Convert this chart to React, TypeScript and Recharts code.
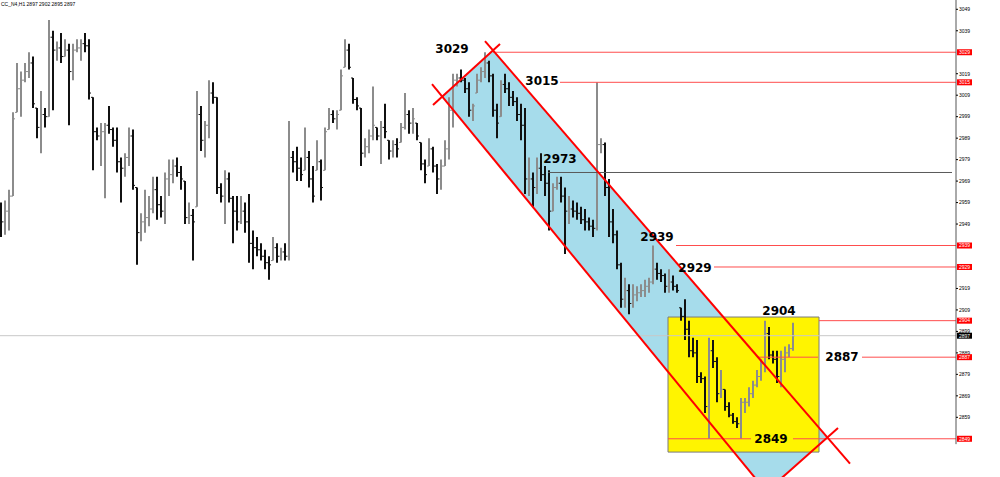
import React from 'react';
import { ComposedChart, Bar, Area, XAxis, YAxis, ReferenceLine, ReferenceArea, ReferenceDot } from 'recharts';

const W = 1000;
const H = 477;
const Y_MIN = 2831.2;
const Y_MAX = 3053.33;
const X_MIN = -0.25;
const X_MAX = 238.75;

const TITLE = 'CC_N4,H1  2897 2902 2895 2897';

const highs = [
  2959, 2960, 2965, 3001, 3024, 3020, 3024, 3029, 3027, 3003,
  3011, 3003, 3044, 3039, 3034, 3038, 3035, 3033, 3033, 3035,
  3035, 3038, 3035, 3008, 2994, 2996, 2996, 3004, 2994, 2994,
  2980, 2982, 2994, 2993, 2966, 2954, 2965, 2962, 2971, 2971,
  2962, 2973, 2979, 2979, 2980, 2976, 2969, 2959, 2956, 3011,
  3004, 2997, 3016, 3015, 3008, 2968, 2974, 2973, 2962, 2962,
  2962, 2959, 2963, 2946, 2943, 2940, 2937, 2934, 2943, 2940,
  2938, 2940, 2997, 2983, 2985, 2980, 2994, 2983, 2976, 2988,
  2979, 2994, 3003, 3002, 3002, 3021, 3035, 3033, 3017, 3008,
  3003, 2989, 2993, 3013, 2994, 2997, 3005, 2988, 2988, 2989,
  2996, 3010, 3002, 3003, 2996, 2987, 2979, 2989, 2985, 2977,
  2979, 2988, 3008, 3019, 3019, 3021, 3017, 3015, 3005, 3019,
  3022, 3029, 3025, 3019, 3005, 3016, 3019, 3015, 3011, 3008,
  3005, 3003, 2980, 2973, 2980, 2982, 2976, 2974, 2968, 2971,
  2971, 2966, 2962, 2960, 2959, 2957, 2956, 2952, 2951, 3015,
  2989, 2987, 2970, 2956, 2946, 2931, 2924, 2921, 2921, 2920,
  2921, 2923, 2924, 2939, 2931, 2928, 2926, 2928, 2925, 2921,
  2910, 2914, 2904, 2896, 2895, 2880, 2878, 2896, 2895, 2887,
  2881, 2872, 2866, 2861, 2859, 2868, 2868, 2873, 2876, 2881,
  2886, 2904, 2901, 2890, 2890, 2890, 2892, 2893, 2903,
];

const lows = [
  2943, 2944, 2946, 2962, 3001, 2999, 3015, 3017, 3003, 2989,
  2982, 2994, 2999, 3002, 3025, 3024, 3027, 2995, 3016, 3029,
  3025, 3029, 3007, 2974, 2988, 2976, 2961, 2991, 2985, 2973,
  2959, 2971, 2976, 2965, 2930, 2941, 2945, 2948, 2954, 2951,
  2952, 2949, 2962, 2968, 2971, 2965, 2949, 2949, 2932, 2957,
  2983, 2980, 2989, 3005, 2963, 2959, 2949, 2959, 2940, 2946,
  2949, 2945, 2931, 2928, 2934, 2932, 2928, 2923, 2932, 2931,
  2932, 2932, 2932, 2973, 2969, 2969, 2974, 2966, 2959, 2974,
  2960, 2974, 2993, 2996, 2993, 3002, 3022, 3021, 3005, 3002,
  2976, 2980, 2982, 2988, 2988, 2977, 2989, 2979, 2980, 2980,
  2987, 2993, 2991, 2991, 2988, 2974, 2968, 2976, 2973, 2963,
  2965, 2976, 2979, 2994, 3013, 3015, 3010, 2999, 2997, 3010,
  3015, 3017, 3015, 2999, 2989, 2999, 3010, 3004, 3004, 2997,
  2988, 2963, 2962, 2957, 2963, 2969, 2962, 2946, 2955, 2965,
  2959, 2935, 2949, 2952, 2951, 2949, 2946, 2946, 2943, 2946,
  2982, 2962, 2943, 2940, 2928, 2910, 2910, 2907, 2910, 2913,
  2915, 2915, 2917, 2921, 2923, 2922, 2917, 2917, 2918, 2917,
  2904, 2895, 2887, 2887, 2875, 2875, 2861, 2849, 2882, 2866,
  2868, 2862, 2859, 2856, 2854, 2849, 2861, 2864, 2868, 2873,
  2876, 2880, 2886, 2884, 2875, 2873, 2880, 2887, 2890,
];

const closes = [
  2950, 2955, 2962, 2998, 3012, 3016, 3020, 3024, 3005, 2994,
  3000, 2999, 3036, 3030, 3031, 3027, 3030, 3020, 3030, 3031,
  3033, 3032, 3010, 2992, 2990, 2992, 2995, 2993, 2988, 2978,
  2975, 2980, 2990, 2967, 2945, 2950, 2952, 2956, 2965, 2958,
  2955, 2970, 2972, 2976, 2973, 2970, 2952, 2953, 2950, 3000,
  2988, 2995, 3010, 3008, 2966, 2962, 2970, 2961, 2955, 2950,
  2955, 2950, 2940, 2938, 2937, 2934, 2931, 2930, 2938, 2934,
  2936, 2934, 2980, 2978, 2975, 2972, 2980, 2970, 2962, 2978,
  2966, 2992, 3000, 2998, 3000, 3018, 3030, 3022, 3007, 3004,
  2982, 2985, 2990, 2995, 2990, 2994, 2992, 2983, 2986, 2984,
  2994, 3000, 2996, 2998, 2990, 2977, 2972, 2984, 2976, 2970,
  2976, 2984, 3002, 3016, 3017, 3016, 3012, 3002, 3004, 3016,
  3020, 3024, 3018, 3002, 2996, 3014, 3012, 3008, 3006, 3000,
  2995, 2970, 2970, 2966, 2975, 2972, 2968, 2955, 2966, 2968,
  2962, 2955, 2956, 2955, 2954, 2951, 2950, 2948, 2947, 2986,
  2986, 2966, 2950, 2944, 2930, 2914, 2918, 2912, 2916, 2917,
  2918, 2920, 2922, 2928, 2926, 2925, 2920, 2922, 2920, 2918,
  2906, 2900, 2890, 2889, 2878, 2877, 2864, 2890, 2885, 2870,
  2872, 2864, 2860, 2857, 2856, 2866, 2866, 2870, 2874, 2878,
  2884, 2898, 2888, 2886, 2878, 2886, 2889, 2891, 2897,
];
const FIRST_OPEN = 2955;

// price-axis labels
const plainTicks = [3049, 3039, 3019, 3009, 2999, 2989, 2979, 2969, 2959, 2949, 2919, 2909, 2899, 2889, 2879, 2869, 2859];
const markedLevels = [3029, 3015, 2939, 2929, 2904, 2887, 2849];
const CURRENT = 2897;
const AXIS_BOTTOM = 2846.5;

// blue descending channel (corner points, bar index / price)
const channelX = [110.25, 123, 191.33, 206.5];
const channelLow = [3008.6, 2979.7, 2824.4, 2849.8];
const channelHigh = [3008.6, 3030.0, 2882.6, 2849.8];

// red channel border lines [x1, p1, x2, p2]
const channelLines = [
  [107.75, 3014.2, 191.33, 2824.4],
  [108, 3004.4, 124.75, 3032.8],
  [121, 3034.2, 212.25, 2837.4],
  [209.25, 2854.0, 191.33, 2824.4],
];

// yellow box
const boxX = [166.75, 204.5];
const boxP = [2842.8, 2905.7];

// horizontal level segments [price, fromIndex, toIndex]
const redLevels = [
  [3029, 123, X_MAX],
  [3015, 139.75, X_MAX],
  [2939, 168.75, X_MAX],
  [2929, 178.25, X_MAX],
  [2904, 204.5, X_MAX],
  [2887, 189, 204.25],
  [2887, 215.25, X_MAX],
  [2849, 166.75, 187.5],
  [2849, 198, X_MAX],
];
const grayLevel = [2973, 136.75, 237.75];

// bold annotations [text, index, price]
const annotations: [string, number, number][] = [
  ['3029', 112.75, 3030.5],
  ['3015', 135.25, 3015.6],
  ['2973', 139.75, 2979.3],
  ['2939', 164, 2943.0],
  ['2929', 173.5, 2928.5],
  ['2904', 194.5, 2908.5],
  ['2887', 210.25, 2887.1],
  ['2849', 192.5, 2848.9],
];

const bars = highs.map((h, i) => ({
  i,
  range: [lows[i], h],
  high: h,
  low: lows[i],
  open: i === 0 ? FIRST_OPEN : closes[i - 1],
  close: closes[i],
}));

const channel = channelX.map((x, k) => ({ i: x, band: [channelLow[k], channelHigh[k]] }));

const allTicks = [...plainTicks, ...markedLevels, CURRENT].sort((a, b) => b - a);

const OhlcShape = (props: any) => {
  const { x, y, width, height, payload } = props;
  if (!payload) return null;
  const top = Math.min(y, y + height);
  const h = Math.abs(height);
  const { high, low, open, close } = payload;
  const k = high - low > 0 ? h / (high - low) : 0;
  const clamp = (v: number) => Math.max(low, Math.min(high, v));
  const yo = top + (high - clamp(open)) * k;
  const yc = top + (high - clamp(close)) * k;
  const cx = Math.round(x + width / 2);
  const up = close >= open;
  const color = up ? '#8c8c8c' : '#111111';
  return (
    <g>
      <line x1={cx} x2={cx} y1={top} y2={top + Math.max(h, 1)} stroke={color} strokeWidth={2} />
      <line x1={cx - 2} x2={cx} y1={yo} y2={yo} stroke={color} strokeWidth={1} />
      <line x1={cx} x2={cx + 2} y1={yc} y2={yc} stroke={color} strokeWidth={1} />
    </g>
  );
};

const AxisTick = (props: any) => {
  const { x, y, payload } = props;
  const v = payload.value;
  const ax = x;
  const marked = markedLevels.includes(v);
  const cur = v === CURRENT;
  if (marked || cur) {
    return (
      <g>
        <rect x={ax + 1} y={y - 3} width={15} height={6} fill={cur ? '#000' : '#ff0000'} />
        <text x={ax + 3} y={y + 1.8} fontSize={5} fontFamily="Liberation Sans, Arial" fill="#fff">{v}</text>
      </g>
    );
  }
  return (
    <g>
      <line x1={ax} x2={ax + 2} y1={y} y2={y} stroke="#000" strokeWidth={1} />
      <text x={ax + 3} y={y + 1.8} fontSize={5} fontFamily="Liberation Sans, Arial" fill="#000">{v}</text>
    </g>
  );
};

export default function App() {
  return (
    <div style={{ position: 'relative', width: W, height: H, background: '#fff', overflow: 'hidden' }}>
      <style>{'body{margin:0;}'}</style>
      <ComposedChart width={W} height={H} data={bars} margin={{ top: 0, right: 0, bottom: 0, left: 0 }}>
        <XAxis dataKey="i" type="number" domain={[X_MIN, X_MAX]} allowDataOverflow hide />
        <YAxis
          orientation="right"
          width={44}
          domain={[Y_MIN, Y_MAX]}
          allowDataOverflow
          ticks={allTicks}
          interval={0}
          tickSize={0}
          tickMargin={0}
          axisLine={false}
          tickLine={false}
          tick={(p: any) => <AxisTick {...p} />}
        />
        <Area
          data={channel}
          dataKey="band"
          type="linear"
          fill="#A6DCEB"
          fillOpacity={1}
          stroke="none"
          isAnimationActive={false}
          dot={false}
          activeDot={false}
        />
        <ReferenceArea
          x1={boxX[0]}
          x2={boxX[1]}
          y1={boxP[0]}
          y2={boxP[1]}
          fill="#FFF400"
          fillOpacity={1}
          stroke="#7a7a7a"
          strokeWidth={1}
          ifOverflow="visible"
        />
        <ReferenceLine
          segment={[{ x: X_MIN, y: CURRENT }, { x: X_MAX, y: CURRENT }]}
          stroke="#c8c8c8"
          strokeWidth={1}
          ifOverflow="visible"
        />
        <Bar dataKey="range" shape={OhlcShape} isAnimationActive={false} />
        <ReferenceLine
          segment={[{ x: grayLevel[1], y: grayLevel[0] }, { x: grayLevel[2], y: grayLevel[0] }]}
          stroke="#5a5a5a"
          strokeWidth={1}
          ifOverflow="visible"
        />
        {redLevels.map((l, k) => (
          <ReferenceLine
            key={'lv' + k}
            segment={[{ x: l[1], y: l[0] }, { x: l[2], y: l[0] }]}
            stroke="#ff4d4d"
            strokeWidth={1}
            ifOverflow="visible"
          />
        ))}
        {channelLines.map((l, k) => (
          <ReferenceLine
            key={'ch' + k}
            segment={[{ x: l[0], y: l[1] }, { x: l[2], y: l[3] }]}
            stroke="#ff0000"
            strokeWidth={2}
            ifOverflow="visible"
          />
        ))}
        <ReferenceLine
          segment={[{ x: X_MAX, y: Y_MAX }, { x: X_MAX, y: AXIS_BOTTOM }]}
          stroke="#555"
          strokeWidth={1}
          ifOverflow="visible"
        />
        {annotations.map((a, k) => (
          <ReferenceDot
            key={'an' + k}
            x={a[1]}
            y={a[2]}
            r={0}
            ifOverflow="visible"
            shape={(p: any) => (
              <text
                x={p.cx}
                y={p.cy}
                textAnchor="middle"
                dominantBaseline="central"
                fontSize={12}
                fontWeight="bold"
                fontFamily="DejaVu Sans, Verdana, sans-serif"
                fill="#000"
              >
                {a[0]}
              </text>
            )}
          />
        ))}
      </ComposedChart>
      <svg style={{ position: 'absolute', left: 0, top: 0 }} width={200} height={10}>
        <text x={1} y={6} fontSize={5} fontFamily="Liberation Sans, Arial" fill="#000">{TITLE}</text>
      </svg>
    </div>
  );
}
